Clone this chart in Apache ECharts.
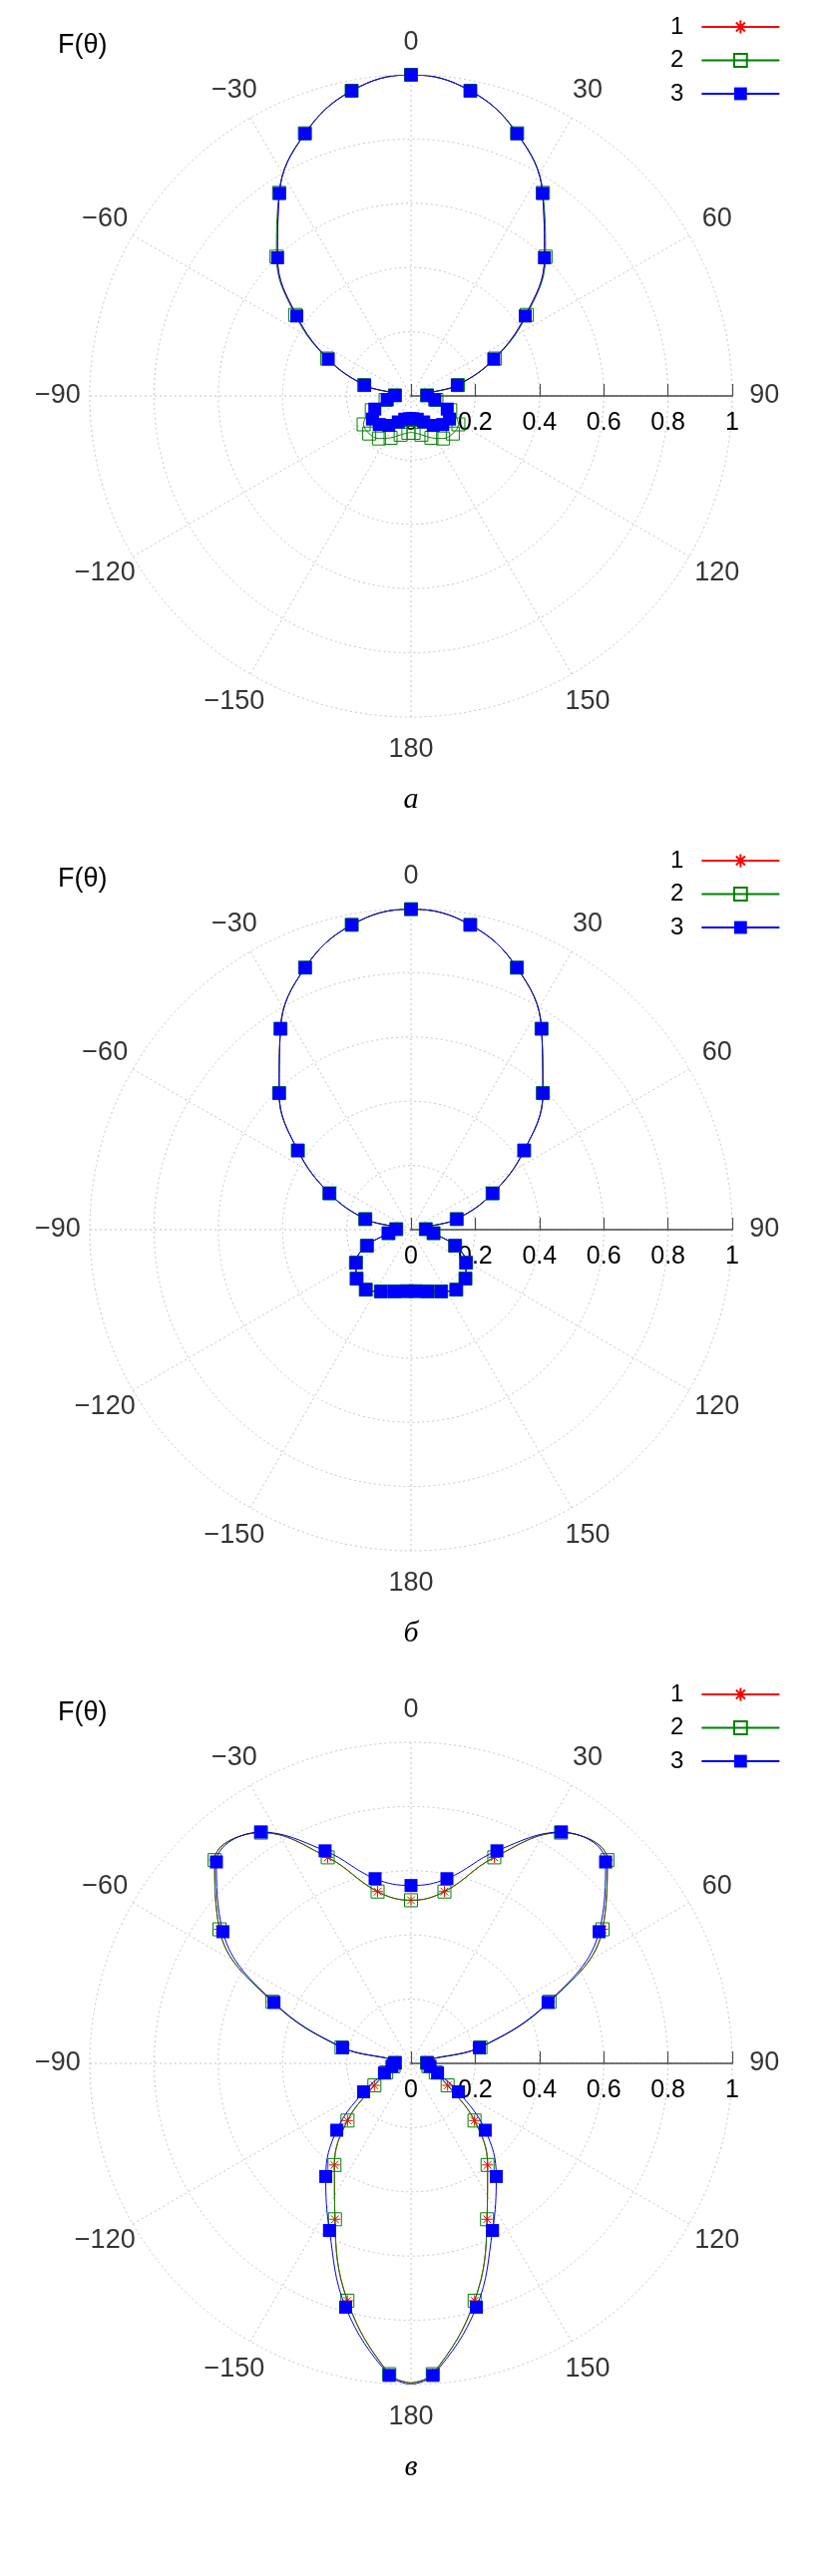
<!DOCTYPE html>
<html>
<head>
<meta charset="utf-8">
<script src="https://cdn.jsdelivr.net/npm/echarts@6/dist/echarts.min.js"></script>
<style>
html,body{margin:0;padding:0;background:#ffffff;}
#chart{width:830px;height:2583px;}
</style>
</head>
<body>
<div id="chart"></div>
<script>
// ---- data (theta in degrees, 0 = up, clockwise positive) ----
const thetaDeg = [-180,-176,-165,-154,-143,-132,-121,-110,-99,-88,-77,-66,-55,-44,-33,-22,-11,0,
                  11,22,33,44,55,66,77,88,99,110,121,132,143,154,165,176,180];

// panel а
const a_s1 = [0.070,0.071,0.075,0.090,0.115,0.133,0.140,0.120,0.075,0.050,0.148,0.282,0.434,0.598,0.752,0.881,0.968,1.000,
              0.968,0.881,0.752,0.598,0.434,0.282,0.148,0.050,0.075,0.120,0.140,0.133,0.115,0.090,0.075,0.071,0.070];
const a_s2 = [0.113,0.115,0.125,0.145,0.166,0.175,0.172,0.130,0.080,0.050,0.150,0.286,0.440,0.603,0.754,0.882,0.968,1.000,
              0.968,0.882,0.754,0.603,0.440,0.286,0.150,0.050,0.080,0.130,0.172,0.175,0.166,0.145,0.125,0.115,0.113];
const a_s3 = [0.070,0.071,0.075,0.090,0.115,0.133,0.140,0.120,0.075,0.050,0.148,0.282,0.434,0.598,0.752,0.881,0.968,1.000,
              0.968,0.881,0.752,0.598,0.434,0.282,0.148,0.050,0.075,0.120,0.140,0.133,0.115,0.090,0.075,0.071,0.070];
// panel б
const b_s1 = [0.191,0.192,0.199,0.214,0.234,0.228,0.200,0.146,0.071,0.046,0.146,0.278,0.430,0.591,0.746,0.880,0.967,0.998,
              0.967,0.880,0.746,0.591,0.430,0.278,0.146,0.046,0.071,0.146,0.200,0.228,0.234,0.214,0.199,0.192,0.191];
const b_s2 = [0.191,0.192,0.199,0.214,0.234,0.228,0.200,0.146,0.071,0.046,0.146,0.278,0.430,0.591,0.746,0.880,0.967,0.998,
              0.967,0.880,0.746,0.591,0.430,0.278,0.146,0.046,0.071,0.146,0.200,0.228,0.234,0.214,0.199,0.192,0.191];
const b_s3 = [0.191,0.192,0.199,0.214,0.234,0.228,0.200,0.146,0.071,0.046,0.146,0.278,0.430,0.591,0.746,0.880,0.967,0.998,
              0.967,0.880,0.746,0.591,0.430,0.278,0.146,0.046,0.071,0.146,0.200,0.228,0.234,0.214,0.199,0.192,0.191];
// panel в
const c_s1 = [0.995,0.970,0.765,0.540,0.396,0.266,0.133,0.082,0.055,0.050,0.222,0.472,0.728,0.880,0.857,0.692,0.545,0.508,
              0.545,0.692,0.857,0.880,0.728,0.472,0.222,0.050,0.055,0.082,0.133,0.266,0.396,0.540,0.765,0.970,0.995];
const c_s2 = [0.995,0.970,0.765,0.540,0.396,0.266,0.133,0.082,0.055,0.050,0.222,0.472,0.728,0.880,0.857,0.692,0.545,0.508,
              0.545,0.692,0.857,0.880,0.728,0.472,0.222,0.050,0.055,0.082,0.133,0.266,0.396,0.540,0.765,0.970,0.995];
const c_s3 = [1.000,0.974,0.786,0.579,0.441,0.311,0.172,0.088,0.060,0.050,0.2185,0.467,0.715,0.872,0.859,0.714,0.586,0.554,
              0.586,0.714,0.859,0.872,0.715,0.467,0.2185,0.050,0.060,0.088,0.172,0.311,0.441,0.579,0.786,0.974,1.000];

const seriesNames = ['1','2','3'];
const angleTickLabels = [-150,-120,-90,-60,-30,0,30,60,90,120,150,180];
const captions = ['а','б','в'];
const yTitle = 'F(θ)';

const panels = [[a_s1,a_s2,a_s3],[b_s1,b_s2,b_s3],[c_s1,c_s2,c_s3]];

// ---- layout / styles ----
const CX = 412, R = 322;
const CY = [397, 1233, 2069];
const SANS = "'Liberation Sans', Arial, sans-serif";
const gridLine = {color:'#c4c4c4', width:1, type:[2,3]};
const ASTERISK = 'path://M0,5L10,5M5,0L5,10M1.5,1.5L8.5,8.5M8.5,1.5L1.5,8.5';
const styles = [
  {symbol: ASTERISK, size: 11, line:'#ff0000', item:{color:'#ff0000', borderColor:'#ff0000', borderWidth:1}},
  {symbol: 'rect', size: 13, line:'#008000', item:{color:'rgba(0,0,0,0)', borderColor:'#008000', borderWidth:1}},
  {symbol: 'rect', size: 13, line:'#0000ee', item:{color:'#0000ff', borderColor:'#0000ff', borderWidth:0}}
];

function toAxisAngle(t){ return t < 90 ? t + 360 : t; }
function fmtAngle(t){ return t < 0 ? '\u2212' + (-t) : String(t); }

const polar = [], angleAxis = [], radiusAxis = [], series = [], legend = [], title = [];

CY.forEach((cy, i) => {
  polar.push({center:[CX, cy], radius:R});
  angleAxis.push({
    polarIndex:i, type:'value', min:90, max:450, interval:30, startAngle:0, clockwise:true,
    axisLine:{show:false}, axisTick:{show:false}, axisLabel:{show:false},
    splitLine:{show:true, lineStyle:gridLine}
  });
  radiusAxis.push({
    polarIndex:i, type:'value', min:0, max:1, interval:0.2,
    axisLine:{show:true, lineStyle:{color:'#4a4a4a', width:1.5}},
    axisTick:{show:true, length:12, lineStyle:{color:'#4a4a4a', width:1.2}},
    axisLabel:{show:true, margin:-40, fontSize:25, color:'#000', fontFamily:SANS},
    splitLine:{show:true, lineStyle:gridLine}
  });
  panels[i].forEach((vals, s) => {
    const st = styles[s];
    series.push({
      type:'line', name:seriesNames[s], coordinateSystem:'polar', polarIndex:i,
      data: thetaDeg.map((t, k) => {
        const it = {value:[vals[k], toAxisAngle(t)]};
        if (Math.abs(t) === 180) it.symbol = 'none';
        return it;
      }),
      smooth:0.4, showAllSymbol:true, clip:false, silent:true,
      symbol:st.symbol, symbolSize:st.size,
      lineStyle:{color:st.line, width:1},
      itemStyle:st.item,
      z:2 + s
    });
  });
  // angle tick labels placed through the polar scales
  series.push({
    type:'scatter', coordinateSystem:'polar', polarIndex:i, silent:true, clip:false,
    symbol:'circle', symbolSize:1, itemStyle:{color:'rgba(0,0,0,0)'},
    data: angleTickLabels.map(t => [1.1, toAxisAngle(t), t]),
    label:{show:true, position:'inside', fontSize:27, color:'#000', fontFamily:SANS,
           formatter: p => fmtAngle(p.value[2])},
    z:10
  });
  legend.push({
    data:seriesNames, orient:'vertical', align:'right', left:672, top:cy - 382,
    itemWidth:78, itemHeight:16, itemGap:9.5, padding:0, selectedMode:false,
    textStyle:{fontSize:24, color:'#000', fontFamily:SANS, padding:[0,13,0,0]}
  });
  title.push({
    text:yTitle, left:58, top:cy - 365, padding:0,
    textStyle:{fontSize:27, fontWeight:'normal', color:'#000', fontFamily:SANS}
  });
  title.push({
    text:captions[i], left:CX, textAlign:'center', top:cy + 390, padding:0,
    textStyle:{fontSize:30, fontWeight:'normal', fontStyle:'italic', color:'#000',
               fontFamily:"'Liberation Serif', 'Times New Roman', serif"}
  });
});

const chart = echarts.init(document.getElementById('chart'), null, {renderer:'canvas'});
chart.setOption({
  animation:false,
  backgroundColor:'#ffffff',
  title, legend, polar, angleAxis, radiusAxis, series
});
</script>
</body>
</html>
